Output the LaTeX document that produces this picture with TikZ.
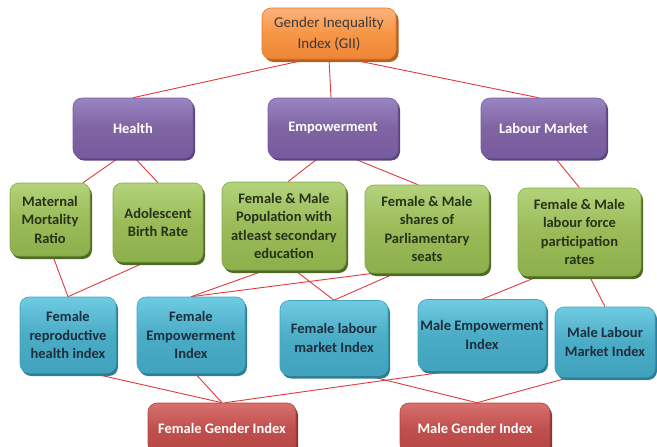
\documentclass[tikz,border=0pt]{standalone}
\usepackage{fontspec}
\setmainfont{Carlito}
\usetikzlibrary{shadows}
\definecolor{orTop}{HTML}{FBB27C}
\definecolor{orMid}{HTML}{F79646}
\definecolor{orBot}{HTML}{EE8536}
\definecolor{orBd}{HTML}{E07A30}
\definecolor{orSh}{HTML}{B85E1F}
\definecolor{orTx}{HTML}{3A3A3A}
\definecolor{puTop}{HTML}{9A84C2}
\definecolor{puMid}{HTML}{8064A2}
\definecolor{puBot}{HTML}{765A9E}
\definecolor{puBd}{HTML}{7A5FA0}
\definecolor{puSh}{HTML}{5A4480}
\definecolor{grTop}{HTML}{B2D37A}
\definecolor{grMid}{HTML}{9BBB59}
\definecolor{grBot}{HTML}{8CB04B}
\definecolor{grBd}{HTML}{86A84A}
\definecolor{grSh}{HTML}{4E6A25}
\definecolor{grTx}{HTML}{26321A}
\definecolor{blTop}{HTML}{6ECBE2}
\definecolor{blMid}{HTML}{4BACC6}
\definecolor{blBot}{HTML}{41A2BE}
\definecolor{blBd}{HTML}{45A4BE}
\definecolor{blSh}{HTML}{2E7F96}
\definecolor{blTx}{HTML}{1E2E3C}
\definecolor{rdTop}{HTML}{D8716E}
\definecolor{rdMid}{HTML}{C0504D}
\definecolor{rdBot}{HTML}{B64744}
\definecolor{rdBd}{HTML}{B24441}
\definecolor{rdSh}{HTML}{8A3331}
\definecolor{lnRed}{HTML}{E03A3E}
\pgfdeclarelayer{bg}
\pgfsetlayers{bg,main}
\tikzset{
  box/.style={rectangle, rounded corners=9pt, align=center, inner sep=1pt,
    line width=0.6pt, font=\fontsize{14.5}{18.5}\selectfont\bfseries},
  sz/.style 2 args={minimum width=#1pt, minimum height=#2pt},
  orangebox/.style={box, draw=orBd, top color=orTop, bottom color=orBot, middle color=orMid,
    general shadow={fill=orSh, shadow xshift=2.5pt, shadow yshift=-3pt},
    text=orTx, font=\fontsize{15}{21}\selectfont},
  purplebox/.style={box, draw=puBd, top color=puTop, bottom color=puBot, middle color=puMid,
    general shadow={fill=puSh, shadow xshift=2pt, shadow yshift=-2.5pt}, text=white},
  greenbox/.style={box, draw=grBd, top color=grTop, bottom color=grBot, middle color=grMid,
    general shadow={fill=grSh, shadow xshift=2pt, shadow yshift=-3pt}, text=grTx},
  bluebox/.style={box, draw=blBd, top color=blTop, bottom color=blBot, middle color=blMid,
    general shadow={fill=blSh, shadow xshift=2pt, shadow yshift=-3pt}, text=blTx},
  redbox/.style={box, draw=rdBd, top color=rdTop, bottom color=rdBot, middle color=rdMid,
    general shadow={fill=rdSh, shadow xshift=2pt, shadow yshift=-3pt}, text=white},
  link/.style={draw=lnRed, line width=0.9pt}
}
\begin{document}
\begin{tikzpicture}[x=1pt, y=-1pt]
\useasboundingbox (0,0) rectangle (657,447);
\clip (0,0) rectangle (657,447);
% level 0
\node[orangebox, sz={134}{51}] (gii) at (329,33.5) {Gender Inequality\\Index (GII)};
% level 1
\node[purplebox, sz={120}{60}] (health) at (133,128) {Health};
\node[purplebox, sz={130}{60}] (emp) at (333,128) {Empowerment};
\node[purplebox, sz={125}{60}] (lab) at (543.5,128) {Labour Market};
% level 2
\node[greenbox, sz={80}{73}] (mmr) at (50,219.5) {Maternal\\Mortality\\Ratio};
\node[greenbox, sz={90}{79}] (abr) at (158,222.5) {Adolescent\\Birth Rate};
\node[greenbox, sz={124}{88}] (pop) at (284,226) {Female \& Male\\Population with\\atleast secondary\\education};
\node[greenbox, sz={124}{88}] (parl) at (427,229) {Female \& Male\\shares of\\Parliamentary\\seats};
\node[greenbox, sz={123}{88}] (lfp) at (579.5,232) {Female \& Male\\labour force\\participation\\rates};
% level 3
\node[bluebox, sz={96}{76}] (frh) at (68,335) {Female\\reproductive\\health index};
\node[bluebox, sz={108}{76}] (fei) at (191,335) {Female\\Empowerment\\Index};
\node[bluebox, sz={108}{75}] (fli) at (334,338) {Female labour\\market Index};
\node[bluebox, sz={128}{71}] (mei) at (482,335) {Male Empowerment\\Index};
\node[bluebox, sz={100}{70}] (mli) at (605,342) {Male Labour\\Market Index};
% level 4
\node[redbox, sz={148}{50}] (fgi) at (222,428) {Female Gender Index};
\node[redbox, sz={150}{50}] (mgi) at (475,428) {Male Gender Index};
% connectors
\begin{pgfonlayer}{bg}
\draw[link] ([xshift=-21pt]gii.south) -- (health.north);
\draw[link] (gii.south) -- ([xshift=-2pt]emp.north);
\draw[link] ([xshift=21pt]gii.south) -- ([xshift=-5pt]lab.north);
\draw[link] ([xshift=-15pt]health.south) -- ([xshift=33pt]mmr.north);
\draw[link] ([xshift=2pt]health.south) -- (abr.north);
\draw[link] ([xshift=-15pt]emp.south) -- ([xshift=4pt]pop.north);
\draw[link] ([xshift=20pt]emp.south) -- ([xshift=-9pt]parl.north);
\draw[link] ([xshift=12pt]lab.south) -- (lfp.north);
\draw[link] ([xshift=3pt]mmr.south) -- (frh.north);
\draw[link] ([xshift=-13pt]abr.south) -- (frh.north);
\draw[link] ([xshift=-19pt]pop.south) -- (fei.north);
\draw[link] ([xshift=11pt]pop.south) -- (fli.north);
\draw[link] ([xshift=-54pt]parl.south) -- (fei.north);
\draw[link] ([xshift=-32pt]parl.south) -- (fli.north);
\draw[link] ([xshift=-41pt]lfp.south) -- (mei.north);
\draw[link] ([xshift=10pt]lfp.south) -- (mli.north);
\draw[link] ([xshift=24pt]frh.south) -- (fgi.north);
\draw[link] ([xshift=4pt]fei.south) -- (fgi.north);
\draw[link] ([xshift=-29pt]mei.south) -- ([xshift=3pt]fgi.north);
\draw[link] ([xshift=34pt]fli.south) -- ([xshift=2pt]mgi.north);
\draw[link] ([xshift=-35pt]mli.south) -- ([xshift=2pt]mgi.north);
\end{pgfonlayer}
\end{tikzpicture}
\end{document}
